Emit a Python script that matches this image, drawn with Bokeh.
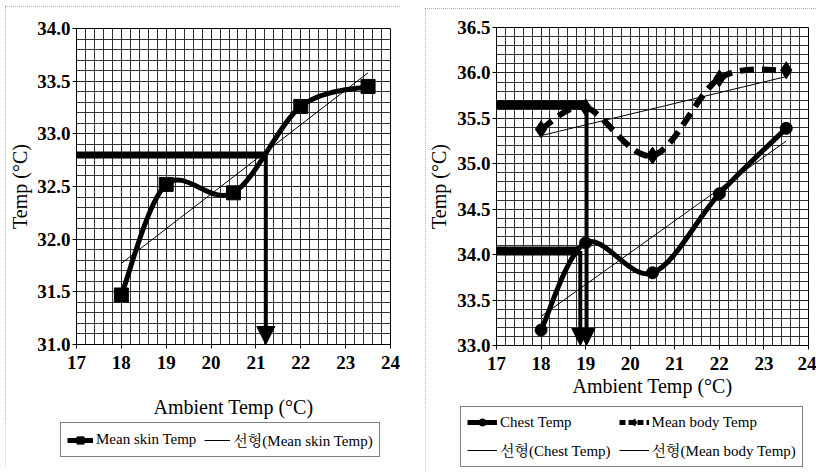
from bokeh.plotting import figure
from bokeh.layouts import row, column
from bokeh.models import (Range1d, SingleIntervalTicker, NumeralTickFormatter, Legend,
                          LegendItem, Arrow, NormalHead)
from bokeh.embed import file_html
from bokeh.resources import INLINE

# ---------------- data ----------------
amb_x = [18, 19, 20.5, 22, 23.5]
skin_y = [31.47, 32.52, 32.44, 33.26, 33.45]
skin_trend_x = [18, 23.5]
skin_trend_y = [31.77, 33.58]
skin_ref_x = [17, 21.22]
skin_ref_y = [32.8, 32.8]
skin_arrow_bottom = 31.0

chest_y = [33.17, 34.13, 33.80, 34.67, 35.39]
body_y = [35.38, 35.62, 35.09, 35.94, 36.03]
chest_trend_x = [18, 23.5]
chest_trend_y = [33.32, 35.25]
body_trend_x = [18, 23.5]
body_trend_y = [35.31, 35.96]
body_ref_x = [17, 19.02]
body_ref_y = [35.65, 35.65]
chest_ref_x = [17, 18.88]
chest_ref_y = [34.04, 34.04]
right_arrow_bottom = 33.0

SERIF = "'Liberation Serif', 'Times New Roman', serif"
KSERIF = "'Liberation Serif', 'Noto Serif CJK KR', 'Noto Sans CJK KR', serif"


def smooth(xs, ys):
    """Excel-style smoothed line as cubic Bezier segments through the data points."""
    n = len(xs)
    out = dict(x0=[], y0=[], x1=[], y1=[], cx0=[], cy0=[], cx1=[], cy1=[])
    for i in range(n - 1):
        a = i - 1 if i > 0 else i
        d = i + 2 if i + 2 < n else i + 1
        out["x0"].append(xs[i]); out["y0"].append(ys[i])
        out["x1"].append(xs[i + 1]); out["y1"].append(ys[i + 1])
        out["cx0"].append(xs[i] + (xs[i + 1] - xs[a]) / 6)
        out["cy0"].append(ys[i] + (ys[i + 1] - ys[a]) / 6)
        out["cx1"].append(xs[i + 1] - (xs[d] - xs[i]) / 6)
        out["cy1"].append(ys[i + 1] - (ys[d] - ys[i]) / 6)
    return out


def base_fig(width, height, yr, bl, br, bt, bb, xlab_standoff, ylab_standoff):
    p = figure(width=width, height=height, x_range=Range1d(17, 24), y_range=Range1d(*yr),
               output_backend="svg", toolbar_location=None,
               min_border_left=bl, min_border_right=br, min_border_top=bt, min_border_bottom=bb)
    p.frame_align = False
    p.background_fill_color = "white"
    p.border_fill_color = "white"
    p.outline_line_color = "black"
    p.outline_line_width = 1
    p.xaxis.ticker = SingleIntervalTicker(interval=1, num_minor_ticks=5)
    p.yaxis.ticker = SingleIntervalTicker(interval=0.5, num_minor_ticks=5)
    p.yaxis.formatter = NumeralTickFormatter(format="0.0")
    p.xaxis.formatter = NumeralTickFormatter(format="0")
    for ax in (p.xaxis[0], p.yaxis[0]):
        ax.axis_line_color = "black"
        ax.major_tick_line_color = "black"
        ax.major_tick_out = 4
        ax.major_tick_in = 0
        ax.minor_tick_line_color = None
        ax.major_label_text_font = SERIF
        ax.major_label_text_font_size = "19px"
        ax.major_label_text_font_style = "bold"
        ax.major_label_text_color = "black"
        ax.axis_label_text_font = SERIF
        ax.axis_label_text_font_style = "normal"
        ax.axis_label_text_color = "black"
        ax.axis_label_text_font_size = "20px"
    p.xaxis.axis_label = "Ambient Temp (\u00b0C)"
    p.yaxis.axis_label = "Temp (\u00b0C)"
    p.xaxis.major_label_standoff = 7
    p.yaxis.major_label_standoff = 2
    p.xaxis.axis_label_standoff = xlab_standoff
    p.yaxis.axis_label_standoff = ylab_standoff
    for g in (p.xgrid[0], p.ygrid[0]):
        g.grid_line_color = "#222222"
        g.grid_line_width = 1
        g.minor_grid_line_color = "#333333"
        g.minor_grid_line_width = 1
    return p


def legend_fig(width, height):
    # a bare canvas that only holds the legend; its range keeps the proxy glyphs out of view
    q = figure(width=width, height=height, x_range=Range1d(0, 1), y_range=Range1d(0, 1),
               x_axis_type=None, y_axis_type=None,
               output_backend="svg", toolbar_location=None,
               min_border_left=0, min_border_right=0, min_border_top=0, min_border_bottom=0)
    q.frame_align = False
    q.grid.visible = False
    q.outline_line_color = None
    q.background_fill_color = "white"
    q.border_fill_color = "white"
    return q


def style_legend(lg):
    lg.border_line_color = "black"
    lg.border_line_width = 1
    lg.background_fill_color = "white"
    lg.background_fill_alpha = 1
    lg.label_text_font = KSERIF
    lg.label_text_font_size = "15px"
    lg.label_text_color = "black"
    lg.margin = 0
    lg.padding = 6
    lg.glyph_width = 30
    lg.glyph_height = 18
    lg.label_height = 18
    lg.label_standoff = 3
    lg.spacing = 8


# ---------------- left panel ----------------
p1 = base_fig(395, 414, (31, 34), 71, 10, 22, 75, 24, 3)

s = smooth(amb_x, skin_y)
p1.bezier(x0=s["x0"], y0=s["y0"], x1=s["x1"], y1=s["y1"],
          cx0=s["cx0"], cy0=s["cy0"], cx1=s["cx1"], cy1=s["cy1"],
          line_color="black", line_width=5)
p1.scatter(amb_x, skin_y, marker="square", size=14, fill_color="black", line_color="black")
p1.line(skin_trend_x, skin_trend_y, line_color="black", line_width=1)
p1.line(skin_ref_x, skin_ref_y, line_color="black", line_width=7)
p1.add_layout(Arrow(end=NormalHead(size=18, fill_color="black", line_color="black"),
                    x_start=skin_ref_x[1], y_start=skin_ref_y[1],
                    x_end=skin_ref_x[1], y_end=skin_arrow_bottom,
                    line_color="black", line_width=4))

q1 = legend_fig(395, 46)
l_skin = q1.line(amb_x, skin_y, line_color="black", line_width=5)
m_skin = q1.scatter(amb_x, skin_y, marker="square", size=12, fill_color="black", line_color="black")
l_skin_tr = q1.line(skin_trend_x, skin_trend_y, line_color="black", line_width=1)
lg1 = Legend(items=[LegendItem(label="Mean skin Temp", renderers=[l_skin, m_skin]),
                    LegendItem(label="\uc120\ud615(Mean skin Temp)", renderers=[l_skin_tr])],
             orientation="horizontal", location=(55, 9))
style_legend(lg1)
lg1.glyph_width = 26
q1.add_layout(lg1)

left = column(p1, q1, spacing=0)
left.margin = (6, 0, 0, 5)
left.styles = {"outline": "1px dotted #9a9a9a", "outline-offset": "-1px"}

# ---------------- right panel ----------------
p2 = base_fig(391, 396, (33, 36.5), 70, 8, 19, 59, 2, 4)

c = smooth(amb_x, chest_y)
p2.bezier(x0=c["x0"], y0=c["y0"], x1=c["x1"], y1=c["y1"],
          cx0=c["cx0"], cy0=c["cy0"], cx1=c["cx1"], cy1=c["cy1"],
          line_color="black", line_width=5)
p2.scatter(amb_x, chest_y, marker="circle", size=12, fill_color="black", line_color="black")
b = smooth(amb_x, body_y)
p2.bezier(x0=b["x0"], y0=b["y0"], x1=b["x1"], y1=b["y1"],
          cx0=b["cx0"], cy0=b["cy0"], cx1=b["cx1"], cy1=b["cy1"],
          line_color="black", line_width=6, line_dash="14 8")
p2.scatter(amb_x, body_y, marker="diamond", size=17, fill_color="black", line_color="black")
p2.line(chest_trend_x, chest_trend_y, line_color="black", line_width=1)
p2.line(body_trend_x, body_trend_y, line_color="black", line_width=1)

p2.line(body_ref_x, body_ref_y, line_color="black", line_width=9)
p2.line(chest_ref_x, chest_ref_y, line_color="black", line_width=9)
for rx, ry in ((body_ref_x, body_ref_y), (chest_ref_x, chest_ref_y)):
    p2.add_layout(Arrow(end=NormalHead(size=17, fill_color="black", line_color="black"),
                        x_start=rx[1], y_start=ry[1], x_end=rx[1], y_end=right_arrow_bottom,
                        line_color="black", line_width=4))

q2 = legend_fig(391, 68)
l_chest = q2.line(amb_x, chest_y, line_color="black", line_width=5)
m_chest = q2.scatter(amb_x, chest_y, marker="circle", size=10, fill_color="black", line_color="black")
l_body = q2.line(amb_x, body_y, line_color="black", line_width=5, line_dash="6 3")
m_body = q2.scatter(amb_x, body_y, marker="diamond", size=14, fill_color="black", line_color="black")
l_chest_tr = q2.line(chest_trend_x, chest_trend_y, line_color="black", line_width=1)
l_body_tr = q2.line(body_trend_x, body_trend_y, line_color="black", line_width=1)
lg2 = Legend(items=[LegendItem(label="Chest Temp", renderers=[l_chest, m_chest]),
                    LegendItem(label="Mean body Temp", renderers=[l_body, m_body]),
                    LegendItem(label="\uc120\ud615(Chest Temp)", renderers=[l_chest_tr]),
                    LegendItem(label="\uc120\ud615(Mean body Temp)", renderers=[l_body_tr])],
             orientation="horizontal", ncols=2, location=(35, 5))
style_legend(lg2)
q2.add_layout(lg2)

right = column(p2, q2, spacing=0)
right.margin = (8, 0, 0, 25)
right.styles = {"outline": "1px dotted #9a9a9a", "outline-offset": "-1px"}

layout = row(left, right)
open("out.html", "w").write(file_html(layout, INLINE))
